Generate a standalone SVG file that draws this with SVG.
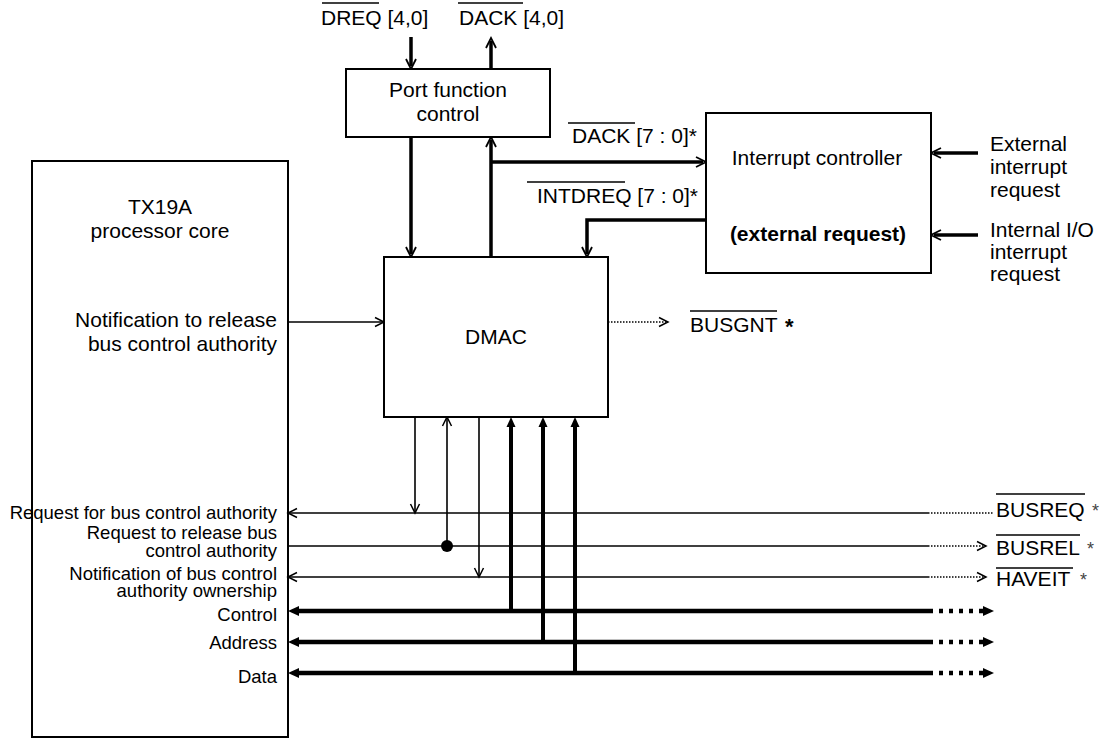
<svg xmlns="http://www.w3.org/2000/svg" width="1102" height="738" viewBox="0 0 1102 738">
<style>
text{font-family:"Liberation Sans",Arial,sans-serif;fill:#000}
.m{font-size:21px}
.s{font-size:18.5px}
.c{text-anchor:middle}
.r{text-anchor:end}
.b{font-weight:bold}
.box{fill:#fff;stroke:#000;stroke-width:2}
.thin{fill:none;stroke:#000;stroke-width:1.6}
.thick{fill:none;stroke:#000;stroke-width:3.5}
.bus{fill:none;stroke:#000;stroke-width:4.5}
.dotb{fill:none;stroke:#000;stroke-width:4.5;stroke-dasharray:4 6}
.dott{fill:none;stroke:#000;stroke-width:1.5;stroke-dasharray:1.5 1.5}
.ov{stroke:#000;stroke-width:1.5}
.ast{font-size:18px;fill:#444}
</style>
<defs>
<marker id="ch" markerUnits="userSpaceOnUse" markerWidth="12" markerHeight="12" refX="9" refY="4.5" orient="auto" overflow="visible"><path d="M0,0 L9,4.5 L0,9" fill="none" stroke="#000" stroke-width="1.5"/></marker>
<marker id="ct" markerUnits="userSpaceOnUse" markerWidth="14" markerHeight="14" refX="7" refY="5" orient="auto" overflow="visible"><path d="M0,0 L10,5 L0,10" fill="none" stroke="#000" stroke-width="1.8"/></marker>
<marker id="tr" markerUnits="userSpaceOnUse" markerWidth="14" markerHeight="14" refX="0" refY="4.5" orient="auto" overflow="visible"><path d="M0,0 L10,4.5 L0,9 z" fill="#000"/></marker>
<marker id="tb" markerUnits="userSpaceOnUse" markerWidth="14" markerHeight="14" refX="0" refY="5" orient="auto" overflow="visible"><path d="M0,0 L11,5 L0,10 z" fill="#000"/></marker>
</defs>

<g id="connectors">
  <path class="thick" d="M411,37 V66" marker-end="url(#ct)"/>
  <path class="thick" d="M491,69 V41" marker-end="url(#ct)"/>
  <path class="thick" d="M411,137 V254" marker-end="url(#ct)"/>
  <path class="thick" d="M491,257 V140" marker-end="url(#ct)"/>
  <path class="thick" d="M491,162 H703" marker-end="url(#ct)"/>
  <path class="thick" d="M706,220 H587 V254" marker-end="url(#ct)"/>
  <path class="thick" d="M978,153 H934" marker-end="url(#ct)"/>
  <path class="thick" d="M978,235 H934" marker-end="url(#ct)"/>
  <path class="thin" d="M288,322 H384" marker-end="url(#ch)"/>
  <path class="dott" d="M608,322 H668" marker-end="url(#ch)"/>
  <path class="thin" d="M415,417 V513" marker-end="url(#ch)"/>
  <path class="thin" d="M447,546 V417" marker-end="url(#ch)"/>
  <circle cx="447" cy="546" r="6" fill="#000"/>
  <path class="thin" d="M479,417 V577" marker-end="url(#ch)"/>
  <path class="thin" d="M928,513 H288" marker-end="url(#ch)"/>
  <path class="dott" d="M928,513 H993"/>
  <path class="thin" d="M928,546 H288"/>
  <path class="dott" d="M928,546 H986" marker-end="url(#ch)"/>
  <path class="thin" d="M928,577 H288" marker-end="url(#ch)"/>
  <path class="dott" d="M928,577 H986" marker-end="url(#ch)"/>
  <path class="bus" d="M933,611 H299" marker-end="url(#tb)"/>
  <path class="bus" d="M933,642 H299" marker-end="url(#tb)"/>
  <path class="bus" d="M933,673 H299" marker-end="url(#tb)"/>
  <path class="dotb" d="M939,611 H983" marker-end="url(#tb)"/>
  <path class="dotb" d="M939,642 H983" marker-end="url(#tb)"/>
  <path class="dotb" d="M939,673 H983" marker-end="url(#tb)"/>
  <path class="bus" style="stroke-width:4" d="M511,611 V427" marker-end="url(#tr)"/>
  <path class="bus" style="stroke-width:4" d="M543,642 V427" marker-end="url(#tr)"/>
  <path class="bus" style="stroke-width:4" d="M575,673 V427" marker-end="url(#tr)"/>
</g>

<g id="port">
  <rect class="box" x="346" y="69" width="204" height="68"/>
  <text class="m c" x="448" y="97">Port function</text>
  <text class="m c" x="448" y="121">control</text>
</g>

<g id="intc">
  <rect class="box" x="706" y="113" width="225" height="160"/>
  <text class="m c" x="817" y="165">Interrupt controller</text>
  <text class="m c b" x="818" y="241">(external request)</text>
</g>

<g id="dmac">
  <rect class="box" x="384" y="257" width="224" height="160"/>
  <text class="m c" x="496" y="344">DMAC</text>
</g>

<g id="core">
  <rect class="box" x="32" y="161" width="256" height="576" style="fill:none"/>
  <text class="m c" x="160" y="214">TX19A</text>
  <text class="m c" x="160" y="238">processor core</text>
  <text class="m r" x="277" y="327">Notification to release</text>
  <text class="m r" x="277" y="351">bus control authority</text>
  <text class="s r" x="277" y="519">Request for bus control authority</text>
  <text class="s r" x="277" y="539">Request to release bus</text>
  <text class="s r" x="277" y="557">control authority</text>
  <text class="s r" x="277" y="580">Notification of bus control</text>
  <text class="s r" x="277" y="597">authority ownership</text>
  <text class="s r" x="277" y="621">Control</text>
  <text class="s r" x="277" y="649">Address</text>
  <text class="s r" x="277" y="683">Data</text>
</g>

<g id="labels">
  <text class="m" x="321" y="25">DREQ [4,0]</text>
  <line class="ov" x1="322" y1="3" x2="379" y2="3"/>
  <text class="m" x="459" y="25">DACK [4,0]</text>
  <line class="ov" x1="458" y1="3" x2="523" y2="3"/>
  <text class="m" x="572" y="143">DACK [7 : 0]*</text>
  <line class="ov" x1="568" y1="123" x2="635" y2="123"/>
  <text class="m" x="537" y="203">INTDREQ [7 : 0]*</text>
  <line class="ov" x1="527" y1="182" x2="625" y2="182"/>
  <text class="m" x="990" y="151">External</text>
  <text class="m" x="990" y="174">interrupt</text>
  <text class="m" x="990" y="197">request</text>
  <text class="m" x="990" y="237">Internal I/O</text>
  <text class="m" x="990" y="259">interrupt</text>
  <text class="m" x="990" y="281">request</text>
  <text class="m" x="690" y="332">BUSGNT</text>
  <line class="ov" x1="690" y1="311" x2="777" y2="311"/>
  <text class="m b" x="785" y="334" style="font-size:22px">*</text>
  <text class="m" x="996" y="517">BUSREQ</text>
  <line class="ov" x1="996" y1="494" x2="1085" y2="494"/>
  <text class="ast" x="1092" y="517">*</text>
  <text class="m" x="996" y="555">BUSREL</text>
  <line class="ov" x1="996" y1="535" x2="1080" y2="535"/>
  <text class="ast" x="1087" y="555">*</text>
  <text class="m" x="996" y="586">HAVEIT</text>
  <line class="ov" x1="996" y1="568" x2="1073" y2="568"/>
  <text class="ast" x="1080" y="586">*</text>
</g>
</svg>
